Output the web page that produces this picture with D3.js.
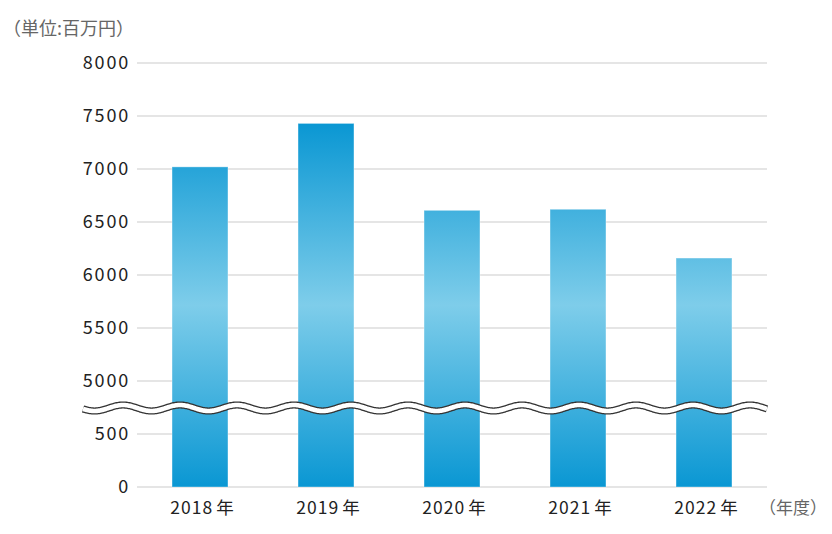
<!DOCTYPE html>
<html>
<head>
<meta charset="utf-8">
<script src="https://cdn.jsdelivr.net/npm/d3@7"></script>
<style>
  body { margin: 0; background: #fff; }
  svg { display: block; font-family: "Noto Sans CJK JP", "Noto Sans", sans-serif; }
</style>
</head>
<body>
<svg id="chart" width="832" height="534"></svg>
<script>
// data
const years = ['2018', '2019', '2020', '2021', '2022'];
const yearSuffix = '年';
const sales = [7020, 7430, 6610, 6620, 6160];
const yTicks = [0, 500, 5000, 5500, 6000, 6500, 7000, 7500, 8000];
const unitLabel = '（単位:百万円）';
const xUnitLabel = '（年度）';

const svg = d3.select('#chart');
const svgWidth = parseInt(svg.attr('width'));
const svgHeight = parseInt(svg.attr('height'));

const margin = {top: 63, right: 65, bottom: 47, left: 137};
const width = svgWidth - margin.left - margin.right;
const height = svgHeight - margin.top - margin.bottom;
const step = height / 8;

// broken axis: 0-500 and 5000-8000 share equal tick spacing
const y = d3.scaleLinear()
    .domain([0, 500, 5000, 8000])
    .range([height, height - step, height - 2 * step, 0]);

const x = d3.scaleBand()
    .domain(years)
    .range([0, width])
    .paddingInner(0.556)
    .paddingOuter(0.278);

const g = svg.append('g')
    .attr('transform', `translate(${margin.left},${margin.top})`);

// gradient across the bars (dark - light - dark)
const defs = svg.append('defs');
const grad = defs.append('linearGradient')
    .attr('id', 'barGrad')
    .attr('gradientUnits', 'userSpaceOnUse')
    .attr('x1', 0).attr('x2', 0)
    .attr('y1', y(d3.max(sales))).attr('y2', y(0));
grad.append('stop').attr('offset', '0%').attr('stop-color', '#0a97d3');
grad.append('stop').attr('offset', '50%').attr('stop-color', '#7ecdea');
grad.append('stop').attr('offset', '100%').attr('stop-color', '#0a97d3');

// grid lines
g.append('g')
    .selectAll('line')
    .data(yTicks)
    .enter()
    .append('line')
    .attr('x1', 0)
    .attr('x2', width)
    .attr('y1', (d) => y(d))
    .attr('y2', (d) => y(d))
    .attr('stroke', '#dcdcdc')
    .attr('stroke-width', 1.5);

// y tick labels
const yAxis = d3.axisLeft(y)
    .tickValues(yTicks)
    .tickFormat(d3.format('d'))
    .tickSize(0)
    .tickPadding(7);
g.append('g')
    .call(yAxis)
    .call((ax) => ax.select('.domain').remove())
    .selectAll('text')
    .attr('font-size', 18)
    .attr('letter-spacing', 1.8)
    .attr('font-family', '"Noto Sans CJK JP", sans-serif')
    .attr('fill', '#222');

// bars
g.selectAll('.bar')
    .data(years.map((yr, i) => ({year: yr, value: sales[i]})))
    .enter()
    .append('rect')
    .attr('class', 'bar')
    .attr('x', (d) => x(d.year))
    .attr('y', (d) => y(d.value))
    .attr('width', x.bandwidth())
    .attr('height', (d) => y(0) - y(d.value))
    .attr('fill', 'url(#barGrad)')
    .attr('stroke', 'rgba(255,255,255,0.35)')
    .attr('stroke-width', 1);

// axis break wave
const breakY = (y(500) + y(5000)) / 2 + 0.5;
const waveLen = 57;
const amp = 3;
const wavePts = d3.range(-54, width + 0.5, 1).map((px) => [px, breakY - amp * Math.cos(2 * Math.PI * (px - 123 + margin.left) / waveLen)]);
const waveLine = d3.line().curve(d3.curveBasis);
g.append('path')
    .attr('d', waveLine(wavePts))
    .attr('fill', 'none')
    .attr('stroke', '#333')
    .attr('stroke-width', 7.2);
g.append('path')
    .attr('d', waveLine(wavePts))
    .attr('fill', 'none')
    .attr('stroke', '#fff')
    .attr('stroke-width', 4.6);

// x labels
const xLabels = g.append('g')
    .selectAll('text')
    .data(years)
    .enter()
    .append('text')
    .attr('x', (d) => x(d) + x.bandwidth() / 2 + 2)
    .attr('y', height + 27)
    .attr('text-anchor', 'middle')
    .attr('font-size', 17.5)
    .attr('fill', '#222');
xLabels.append('tspan')
    .attr('letter-spacing', 1)
    .text((d) => d);
xLabels.append('tspan')
    .attr('dx', 3)
    .text(yearSuffix);

g.append('text')
    .attr('x', svgWidth - margin.left - 5)
    .attr('y', height + 27)
    .attr('text-anchor', 'end')
    .attr('font-size', 17)
    .attr('fill', '#666')
    .text(xUnitLabel);

svg.append('text')
    .attr('x', 3)
    .attr('y', 35)
    .attr('font-size', 18)
    .attr('fill', '#666')
    .text(unitLabel);
</script>
</body>
</html>
